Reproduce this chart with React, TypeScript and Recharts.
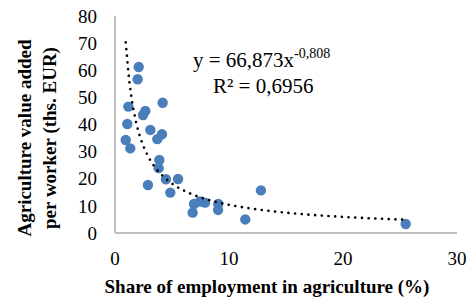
import React from 'react';
import { ScatterChart, Scatter, XAxis, YAxis, Label } from 'recharts';

// share of employment in agriculture (%)
const shareX = [
  2.08, 1.99, 1.17, 1.08, 0.94, 1.34, 4.18, 2.66, 2.46, 3.1, 4.12, 3.71, 3.89, 3.83,
  2.89, 4.47, 5.53, 4.85, 6.81, 6.93, 7.46, 7.9, 9.06, 9.04, 11.43, 12.8, 25.5,
];
// agriculture value added per worker (ths. EUR)
const valueY = [
  61.2, 56.7, 46.6, 40.2, 34.3, 31.2, 48.0, 45.0, 43.5, 38.0, 36.4, 34.6, 26.9, 23.9,
  17.7, 19.8, 19.9, 14.9, 7.5, 10.7, 11.6, 11.2, 10.7, 8.5, 5.0, 15.7, 3.3,
];

const xTicks = [0, 10, 20, 30];
const yTicks = [0, 10, 20, 30, 40, 50, 60, 70, 80];

// power trendline as printed on the chart: y = 66,873x^-0,808
const trendA = 66.873;
const trendB = -0.808;
const trendSteps = 80;

const points = shareX.map((x, i) => ({ x, y: valueY[i] }));

const minX = Math.min(...shareX);
const maxX = Math.max(...shareX);
const trend = Array.from({ length: trendSteps + 1 }, (_, i) => {
  const x = minX + ((maxX - minX) * i) / trendSteps;
  return { x, y: trendA * Math.pow(x, trendB) };
});

const font = 'Liberation Serif';
const axisColor = '#bfbfbf';

const Dot = (props: any) => (
  <circle cx={props.cx} cy={props.cy} r={5.2} fill="#4a7ebb" />
);

const YTitle = () => (
  <g>
    <text transform="translate(31,138) rotate(-90)" textAnchor="middle"
      fontFamily={font} fontWeight="bold" fontSize={19} fill="#000">
      Agriculture value added
    </text>
    <text transform="translate(56,138) rotate(-90)" textAnchor="middle"
      fontFamily={font} fontWeight="bold" fontSize={19} fill="#000">
      per worker (ths. EUR)
    </text>
  </g>
);

const Equation = () => (
  <g>
    <text x={193} y={67} fontFamily={font} fontSize={21} fill="#000">
      y = 66,873x<tspan fontSize={14} dy={-9}>-0,808</tspan>
    </text>
    <text x={213} y={93} fontFamily={font} fontSize={21} fill="#000">R² = 0,6956</text>
  </g>
);

const XTitle = () => (
  <text x={267} y={293} textAnchor="middle" fontFamily={font}
    fontWeight="bold" fontSize={19} fill="#000">
    Share of employment in agriculture (%)
  </text>
);

const App = () => {
  return (
    <div style={{ position: 'absolute', left: 0, top: 0, background: '#fff' }}>
      <ScatterChart
        width={471}
        height={300}
        margin={{ top: 16, right: 14, left: 0, bottom: 0 }}
      >
        <XAxis
          type="number"
          dataKey="x"
          domain={[0, 30]}
          ticks={xTicks}
          height={67}
          stroke={axisColor}
          strokeWidth={2}
          tickLine={false}
          tickSize={17}
          tickMargin={2}
          tick={{ fill: '#000', fontSize: 19, fontFamily: font }}
          allowDataOverflow
        >
          <Label content={() => <XTitle />} />
        </XAxis>
        <YAxis
          type="number"
          dataKey="y"
          domain={[0, 80]}
          ticks={yTicks}
          width={115}
          stroke={axisColor}
          strokeWidth={2}
          tickLine={false}
          tickSize={16}
          tickMargin={2}
          tick={{ fill: '#000', fontSize: 19, fontFamily: font }}
          interval={0}
          allowDataOverflow
        >
          <Label content={() => <YTitle />} />
          <Label content={() => <Equation />} />
        </YAxis>
        <Scatter data={points} shape={Dot} isAnimationActive={false} />
        <Scatter
          data={trend}
          shape={() => null}
          line={{
            stroke: '#000',
            strokeWidth: 2.6,
            strokeDasharray: '0.1 6.6',
            strokeLinecap: 'round',
          }}
          lineType="joint"
          isAnimationActive={false}
        />
      </ScatterChart>
    </div>
  );
};

export default App;
